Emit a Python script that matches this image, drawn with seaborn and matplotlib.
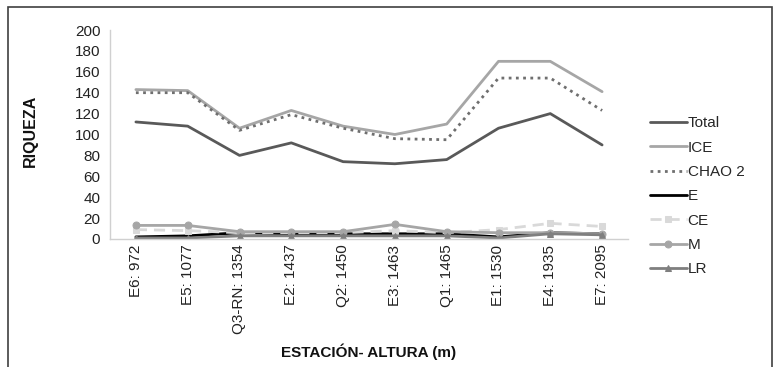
import matplotlib
matplotlib.use("Agg")
import matplotlib.pyplot as plt
import seaborn as sns
import pandas as pd
import numpy as np
from matplotlib.patches import Rectangle

sns.set_theme(style="white")
plt.rcParams['font.family'] = ['Liberation Sans', 'DejaVu Sans']

stations = ["E6: 972", "E5: 1077", "Q3-RN: 1354", "E2: 1437", "Q2: 1450",
            "E3: 1463", "Q1: 1465", "E1: 1530", "E4: 1935", "E7: 2095"]
total = [112, 108, 80, 92, 74, 72, 76, 106, 120, 90]
ice = [143, 142, 106, 123, 108, 100, 110, 170, 170, 141]
chao2 = [140, 140, 104, 119, 106, 96, 95, 154, 154, 123]
e_vals = [2, 3, 6, 5, 5, 5, 5, 2, 6, 5]
ce = [9, 8, 6, 6, 6, 8, 6, 9, 15, 12]
m_vals = [13, 13, 7, 7, 7, 14, 7, 6, 6, 5]
lr = [1, 1, 3, 3, 3, 3, 3, 1, 5, 4]

series = [
    ("Total", total, dict(color="#595959", lw=2.0, ls="-", marker=None)),
    ("ICE", ice, dict(color="#a6a6a6", lw=2.0, ls="-", marker=None)),
    ("CHAO 2", chao2, dict(color="#6f6f6f", lw=2.0, ls=(0, (1, 1.6)), marker=None)),
    ("E", e_vals, dict(color="#000000", lw=2.0, ls="-", marker=None)),
    ("CE", ce, dict(color="#d9d9d9", lw=2.0, ls=(0, (4, 2.5)), marker="s")),
    ("M", m_vals, dict(color="#a6a6a6", lw=2.0, ls="-", marker="o")),
    ("LR", lr, dict(color="#7f7f7f", lw=2.0, ls="-", marker="^")),
]

W, H = 773, 367
fig = plt.figure(figsize=(W / 100, H / 100), dpi=100)
ax = fig.add_axes([110 / W, 1 - 239 / H, 518 / W, 209 / H])

x = np.arange(len(stations))
handles = []
for name, vals, st in series:
    df = pd.DataFrame({"x": x, "y": vals})
    sns.lineplot(data=df, x="x", y="y", ax=ax, color=st["color"], linewidth=st["lw"],
                 linestyle=st["ls"], marker=st["marker"], markersize=5,
                 markeredgecolor=st["color"], markerfacecolor=st["color"], label=name,
                 legend=False)
    handles.append(ax.lines[-1])

ax.set_xlim(-0.5, len(stations) - 0.5)
ax.set_ylim(0, 200)
ax.set_yticks(np.arange(0, 201, 20))
ax.set_xticks(x)
ax.set_xticklabels(stations, rotation=90, fontsize=11, color="#222222")
ax.tick_params(axis="y", labelsize=11, colors="#222222", length=4, width=0.8,
               color="#d0d0d0", direction="out", pad=3)
ax.tick_params(axis="x", length=0, pad=4)
for s in ["top", "right"]:
    ax.spines[s].set_visible(False)
for s in ["left", "bottom"]:
    ax.spines[s].set_color("#d0d0d0")
    ax.spines[s].set_linewidth(1.0)
ax.set_xlabel("")
ax.set_ylabel("")

fig.text(30 / W, 1 - 131 / H, "RIQUEZA", rotation=90, ha="center", va="center",
         fontsize=11.5, fontweight="bold", color="#111111")
fig.text(369 / W, 1 - 352 / H, "ESTACIÓN- ALTURA (m)", ha="center", va="center",
         fontsize=11, fontweight="bold", color="#111111",
         family=['Liberation Sans Narrow', 'Liberation Sans', 'DejaVu Sans'])

fig.legend(handles=handles, labels=[s[0] for s in series], loc="upper left",
           bbox_to_anchor=(644 / W, 1 - 110 / H), frameon=False, fontsize=11,
           handlelength=2.4, handletextpad=0.05, labelspacing=0.68, borderaxespad=0)

fig.patches.append(Rectangle((8 / W, -0.1), (W - 8.5) / W - 8 / W + 0.01, 1 - 7 / H + 0.1,
                             transform=fig.transFigure, fill=False,
                             edgecolor="#404040", linewidth=1.2))

fig.savefig("out.png", dpi=100)
